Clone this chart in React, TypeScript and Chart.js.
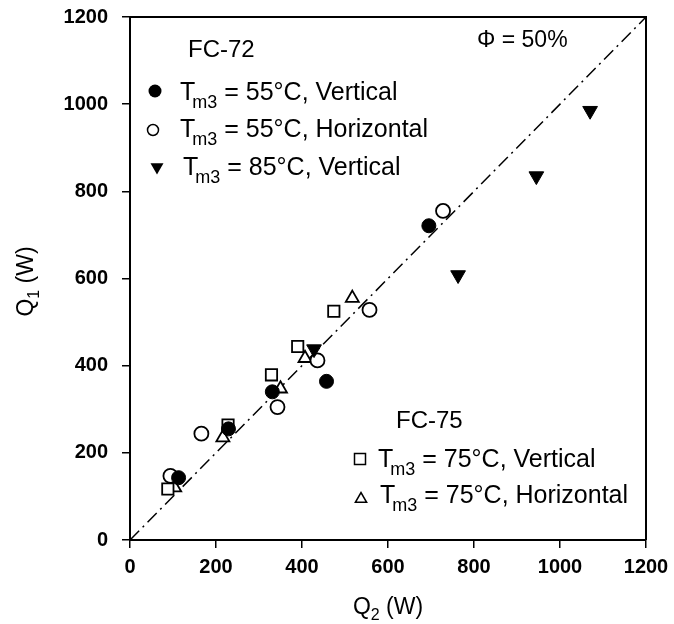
import React, { useEffect, useRef } from 'react';
import { Chart, registerables } from 'chart.js';

Chart.register(...registerables);

// FC-72, Tm3 = 55°C, Vertical (filled circles)
const v55X = [113, 229, 331, 457, 695];
const v55Y = [143, 255, 340, 364, 721];
// FC-72, Tm3 = 55°C, Horizontal (open circles)
const h55X = [94, 166, 343, 436, 557, 728];
const h55Y = [147, 244, 305, 412, 528, 755];
// FC-72, Tm3 = 85°C, Vertical (filled down triangles)
const v85X = [428, 763, 945, 1070];
const v85Y = [438, 608, 835, 985];
// FC-75, Tm3 = 75°C, Vertical (open squares)
const v75X = [88, 228, 329, 390, 474];
const v75Y = [117, 264, 379, 444, 525];
// FC-75, Tm3 = 75°C, Horizontal (open triangles)
const h75X = [104, 216, 350, 407, 517];
const h75Y = [120, 235, 347, 417, 555];
// y = x reference line
const diagX = [0, 1200];
const diagY = [0, 1200];

const axisMin = 0;
const axisMax = 1200;
const tickStep = 200;

const FONT = '"Liberation Sans", Arial, sans-serif';

const toPts = (xs: number[], ys: number[]) => xs.map((x, i) => ({ x, y: ys[i] }));

function drawMarker(ctx: CanvasRenderingContext2D, kind: string, x: number, y: number, r: number) {
  ctx.save();
  ctx.lineWidth = 1.5;
  ctx.strokeStyle = '#000';
  ctx.fillStyle = '#000';
  ctx.beginPath();
  if (kind === 'fcircle' || kind === 'ocircle') {
    ctx.arc(x, y, r, 0, Math.PI * 2);
    if (kind === 'fcircle') ctx.fill();
    else ctx.stroke();
  } else if (kind === 'dtri') {
    const h = r * Math.sqrt(3) / 2;
    ctx.moveTo(x - h, y - r / 2);
    ctx.lineTo(x + h, y - r / 2);
    ctx.lineTo(x, y + r);
    ctx.closePath();
    ctx.fill();
  } else if (kind === 'utri') {
    const h = r * Math.sqrt(3) / 2;
    ctx.moveTo(x - h, y + r / 2);
    ctx.lineTo(x + h, y + r / 2);
    ctx.lineTo(x, y - r);
    ctx.closePath();
    ctx.stroke();
  } else if (kind === 'square') {
    ctx.rect(x - r, y - r, 2 * r, 2 * r);
    ctx.stroke();
  }
  ctx.restore();
}

function drawTm3(ctx: CanvasRenderingContext2D, x: number, base: number, rest: string) {
  ctx.save();
  ctx.fillStyle = '#000';
  ctx.textBaseline = 'alphabetic';
  ctx.textAlign = 'left';
  ctx.font = `25px ${FONT}`;
  ctx.fillText('T', x, base);
  const wT = ctx.measureText('T').width;
  ctx.font = `18px ${FONT}`;
  const sx = x + wT - 3;
  ctx.fillText('m3', sx, base + 8);
  const wS = ctx.measureText('m3').width;
  ctx.font = `25px ${FONT}`;
  ctx.fillText(' ' + rest, sx + wS, base);
  ctx.restore();
}

function drawSubLabel(ctx: CanvasRenderingContext2D, main: string, sub: string, rest: string, size: number, subSize: number) {
  ctx.font = `${size}px ${FONT}`;
  const w1 = ctx.measureText(main).width;
  const w3 = ctx.measureText(rest).width;
  ctx.font = `${subSize}px ${FONT}`;
  const w2 = ctx.measureText(sub).width;
  const total = w1 + w2 + w3;
  let cx = -total / 2;
  ctx.textAlign = 'left';
  ctx.textBaseline = 'alphabetic';
  ctx.font = `${size}px ${FONT}`;
  ctx.fillText(main, cx, 0);
  cx += w1;
  ctx.font = `${subSize}px ${FONT}`;
  ctx.fillText(sub, cx, 6);
  cx += w2;
  ctx.font = `${size}px ${FONT}`;
  ctx.fillText(rest, cx, 0);
}

const decorPlugin = {
  id: 'decor',
  afterDraw(chart: any) {
    const ctx: CanvasRenderingContext2D = chart.ctx;
    const a = chart.chartArea;
    ctx.save();
    ctx.strokeStyle = '#000';
    ctx.lineWidth = 2;
    ctx.beginPath();
    ctx.moveTo(a.left, a.top);
    ctx.lineTo(a.right, a.top);
    ctx.lineTo(a.right, a.bottom);
    ctx.stroke();

    ctx.fillStyle = '#000';
    ctx.font = `24px ${FONT}`;
    ctx.textAlign = 'left';
    ctx.textBaseline = 'alphabetic';
    ctx.fillText('FC-72', 188, 57);
    drawMarker(ctx, 'fcircle', 155, 91, 6.5);
    drawTm3(ctx, 180, 100, '= 55°C, Vertical');
    drawMarker(ctx, 'ocircle', 153, 130, 5.5);
    drawTm3(ctx, 180, 137, '= 55°C, Horizontal');
    drawMarker(ctx, 'dtri', 157, 167, 7.5);
    drawTm3(ctx, 183, 175, '= 85°C, Vertical');

    ctx.font = `23px ${FONT}`;
    ctx.fillText('Φ = 50%', 477, 47);

    ctx.font = `24px ${FONT}`;
    ctx.fillText('FC-75', 396, 428);
    drawMarker(ctx, 'square', 360, 459, 5.5);
    drawTm3(ctx, 378, 467, '= 75°C, Vertical');
    drawMarker(ctx, 'utri', 361, 499, 6.5);
    drawTm3(ctx, 380, 503, '= 75°C, Horizontal');

    ctx.save();
    ctx.translate((a.left + a.right) / 2, 614);
    drawSubLabel(ctx, 'Q', '2', ' (W)', 23, 16);
    ctx.restore();

    ctx.save();
    ctx.translate(33, (a.top + a.bottom) / 2 + 3);
    ctx.rotate(-Math.PI / 2);
    drawSubLabel(ctx, 'Q', '1', ' (W)', 23, 16);
    ctx.restore();

    ctx.restore();
  },
};

export default function App() {
  const ref = useRef<HTMLCanvasElement | null>(null);

  useEffect(() => {
    if (!ref.current) return;
    const tickFont = { family: FONT, size: 20, weight: 'bold' as const };
    const plain = (v: any) => String(v);
    const chart = new Chart(ref.current, {
      type: 'scatter',
      data: {
        datasets: [
          {
            label: 'Tm3 = 55°C, Vertical',
            data: toPts(v55X, v55Y),
            pointStyle: 'circle',
            pointRadius: 7,
            backgroundColor: '#000',
            borderColor: '#000',
            borderWidth: 1,
          },
          {
            label: 'Tm3 = 85°C, Vertical',
            data: toPts(v85X, v85Y),
            pointStyle: 'triangle',
            rotation: 180,
            pointRadius: 8.5,
            backgroundColor: '#000',
            borderColor: '#000',
            borderWidth: 1,
          },
          {
            label: 'Tm3 = 55°C, Horizontal',
            data: toPts(h55X, h55Y),
            pointStyle: 'circle',
            pointRadius: 7,
            backgroundColor: '#fff',
            borderColor: '#000',
            borderWidth: 1.8,
          },
          {
            label: 'Tm3 = 75°C, Vertical',
            data: toPts(v75X, v75Y),
            pointStyle: 'rect',
            pointRadius: 8,
            backgroundColor: '#fff',
            borderColor: '#000',
            borderWidth: 1.8,
          },
          {
            label: 'Tm3 = 75°C, Horizontal',
            data: toPts(h75X, h75Y),
            pointStyle: 'triangle',
            pointRadius: 7.5,
            backgroundColor: '#fff',
            borderColor: '#000',
            borderWidth: 1.8,
          },
          {
            type: 'line' as const,
            label: 'y = x',
            data: toPts(diagX, diagY),
            borderColor: '#000',
            borderWidth: 1.5,
            borderDash: [13, 5, 2, 5],
            pointRadius: 0,
            fill: false,
          },
        ] as any,
      },
      options: {
        animation: false,
        responsive: false,
        devicePixelRatio: 1,
        layout: { padding: { top: 17, right: 28, left: 0, bottom: 0 } },
        plugins: {
          legend: { display: false },
          tooltip: { enabled: false },
        },
        scales: {
          x: {
            type: 'linear',
            min: axisMin,
            max: axisMax,
            ticks: { stepSize: tickStep, color: '#000', font: tickFont, padding: 7, maxRotation: 0, callback: plain },
            grid: { drawOnChartArea: false, drawTicks: true, tickLength: 8, color: '#000', lineWidth: 1.5 },
            border: { display: true, color: '#000', width: 2 },
            afterFit: (s: any) => { s.height = 84; s.paddingLeft = 0; s.paddingRight = 0; },
          },
          y: {
            type: 'linear',
            min: axisMin,
            max: axisMax,
            ticks: { stepSize: tickStep, color: '#000', font: tickFont, padding: 14, callback: plain },
            grid: { drawOnChartArea: false, drawTicks: true, tickLength: 8, color: '#000', lineWidth: 1.5 },
            border: { display: true, color: '#000', width: 2 },
            afterFit: (s: any) => { s.width = 130; s.paddingTop = 0; s.paddingBottom = 0; },
          },
        },
      },
      plugins: [decorPlugin],
    });
    return () => chart.destroy();
  }, []);

  return (
    <div style={{ position: 'absolute', left: 0, top: 0, width: 674, height: 624, background: '#fff' }}>
      <canvas ref={ref} width={674} height={624} style={{ width: 674, height: 624, display: 'block' }} />
    </div>
  );
}
